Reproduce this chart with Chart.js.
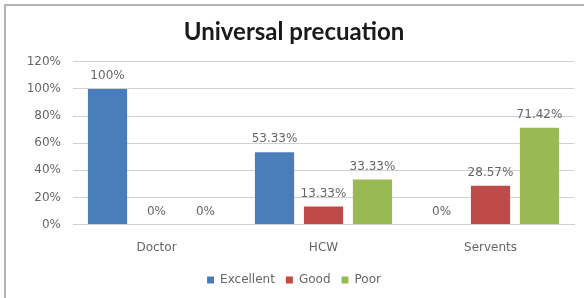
<!DOCTYPE html>
<html>
<head>
<meta charset="utf-8">
<style>
  html, body { margin: 0; padding: 0; background: #fff; }
  #wrap { position: relative; width: 584px; height: 298px; }
</style>
<script src="https://cdn.jsdelivr.net/npm/chart.js@4"></script>
</head>
<body>
<div id="wrap"><canvas id="chart" width="584" height="298"></canvas></div>
<script>
const categories = ["Doctor", "HCW", "Servents"];
const excellent = [100, 53.33, 0];
const good = [0, 13.33, 28.57];
const poor = [0, 33.33, 71.42];
const valueLabels = [
    ["100%", "53.33%", "0%"],
    ["0%", "13.33%", "28.57%"],
    ["0%", "33.33%", "71.42%"]
];

// frame on the top and left, like the original picture
const framePlugin = {
    id: "frame",
    beforeDraw(chart) {
        const ctx = chart.ctx;
        ctx.save();
        ctx.strokeStyle = "#b4b4b4";
        ctx.lineWidth = 2;
        ctx.beginPath();
        ctx.moveTo(5, 298);
        ctx.lineTo(5, 5);
        ctx.lineTo(584, 5);
        ctx.stroke();
        ctx.restore();
    }
};

// value labels above each bar
const labelPlugin = {
    id: "barLabels",
    afterDatasetsDraw(chart) {
        const ctx = chart.ctx;
        ctx.save();
        ctx.font = "12px 'DejaVu Sans'";
        ctx.fillStyle = "#666666";
        ctx.textAlign = "center";
        ctx.textBaseline = "middle";
        chart.data.datasets.forEach((ds, i) => {
            chart.getDatasetMeta(i).data.forEach((bar, j) => {
                ctx.fillText(valueLabels[i][j], bar.x, bar.y - 13);
            });
        });
        ctx.restore();
    }
};

new Chart(document.getElementById("chart"), {
    type: "bar",
    data: {
        labels: categories,
        datasets: [
            { label: "Excellent", data: excellent, backgroundColor: "#4a7ebb" },
            { label: "Good", data: good, backgroundColor: "#be4b48" },
            { label: "Poor", data: poor, backgroundColor: "#98b954" }
        ]
    },
    options: {
        responsive: false,
        animation: false,
        categoryPercentage: 0.88,
        barPercentage: 0.8,
        layout: { padding: { left: 14, right: 10, top: 16, bottom: 2 } },
        plugins: {
            title: {
                display: true,
                text: "Universal precuation",
                color: "#1a1a1a",
                font: { family: "Lato", size: 24, weight: "bold" },
                padding: { top: 2, bottom: 15 }
            },
            legend: {
                position: "bottom",
                labels: {
                    boxWidth: 7,
                    boxHeight: 7,
                    padding: 11,
                    color: "#666666",
                    font: { family: "DejaVu Sans", size: 12 }
                }
            },
            tooltip: { enabled: false }
        },
        scales: {
            x: {
                grid: { display: false },
                border: { color: "#d0d0d0" },
                ticks: { color: "#666666", font: { family: "DejaVu Sans", size: 12 }, padding: 8 }
            },
            y: {
                min: 0,
                max: 120,
                ticks: {
                    stepSize: 20,
                    color: "#666666",
                    font: { family: "DejaVu Sans", size: 12 },
                    padding: 12,
                    callback: v => v + "%"
                },
                grid: { color: "#d0d0d0", drawTicks: false },
                border: { display: false },
                afterFit(scale) { scale.width = 59; }
            }
        }
    },
    plugins: [framePlugin, labelPlugin]
});
</script>
</body>
</html>
